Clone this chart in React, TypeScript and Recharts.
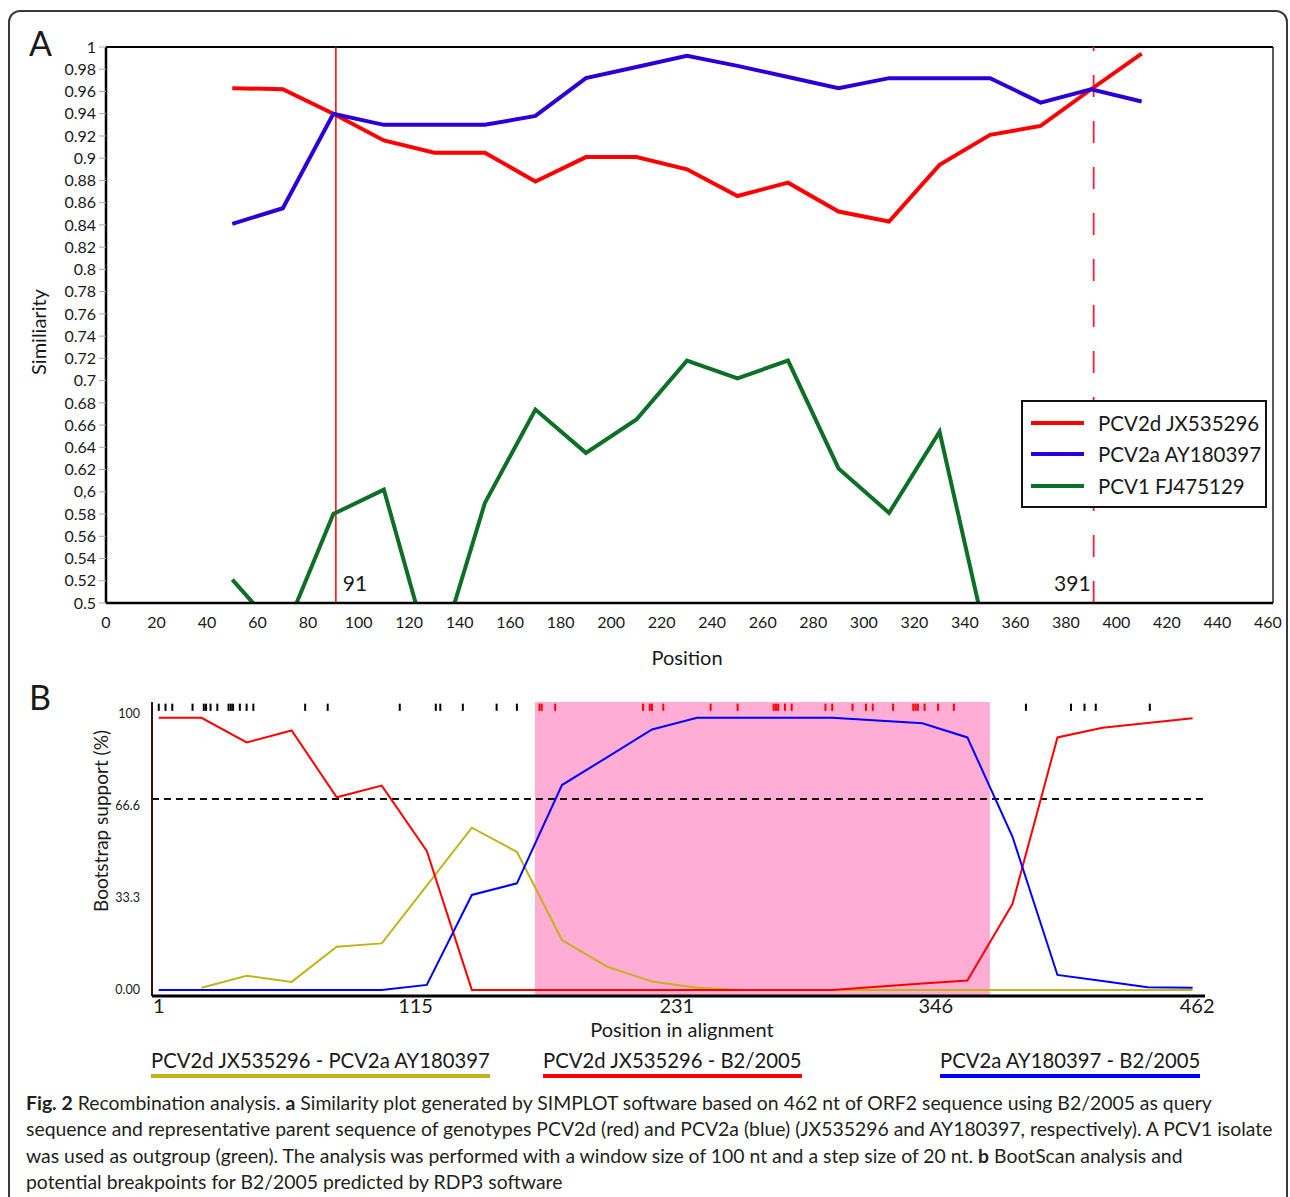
import React from "react";
import {
  ComposedChart,
  Line,
  XAxis,
  YAxis,
  ReferenceLine,
  ReferenceArea,
  Legend,
} from "recharts";

const FONT = "Lato, 'Open Sans', sans-serif";
const INK = "#1a1a1a";

// ---- Panel A: SimPlot similarity, window 100 nt / step 20 nt ----
const windowPos = [50, 70, 90, 110, 130, 150, 170, 190, 210, 230, 250, 270, 290, 310, 330, 350, 370, 390, 410];
const simPCV2d = [0.963, 0.962, 0.94, 0.916, 0.905, 0.905, 0.879, 0.901, 0.901, 0.89, 0.866, 0.878, 0.852, 0.843, 0.894, 0.921, 0.929, 0.962, 0.994];
const simPCV2a = [0.841, 0.855, 0.94, 0.93, 0.93, 0.93, 0.938, 0.972, 0.982, 0.992, 0.983, 0.973, 0.963, 0.972, 0.972, 0.972, 0.95, 0.962, 0.951];
const simPCV1 = [0.521, 0.47, 0.58, 0.602, 0.44, 0.59, 0.674, 0.635, 0.665, 0.718, 0.702, 0.718, 0.621, 0.581, 0.654, 0.453, null, null, null];

const xTicksA = [0, 20, 40, 60, 80, 100, 120, 140, 160, 180, 200, 220, 240, 260, 280, 300, 320, 340, 360, 380, 400, 420, 440, 460];
const yTicksA = [0.5, 0.52, 0.54, 0.56, 0.58, 0.6, 0.62, 0.64, 0.66, 0.68, 0.7, 0.72, 0.74, 0.76, 0.78, 0.8, 0.82, 0.84, 0.86, 0.88, 0.9, 0.92, 0.94, 0.96, 0.98, 1];
const yLabelsA = ["0.5", "0.52", "0.54", "0.56", "0.58", "0,6", "0.62", "0.64", "0.66", "0.68", "0.7", "0.72", "0.74", "0.76", "0.78", "0.8", "0.82", "0.84", "0.86", "0.88", "0.9", "0.92", "0.94", "0.96", "0.98", "1"];
const breakpoints = [91, 391];

const simSeries = [
  { key: "pcv2d", name: "PCV2d JX535296", color: "#ff0000" },
  { key: "pcv2a", name: "PCV2a AY180397", color: "#2b00d8" },
  { key: "pcv1", name: "PCV1 FJ475129", color: "#0d7026" },
];

const simRows = windowPos.map((pos, i) => ({
  pos,
  pcv2d: simPCV2d[i],
  pcv2a: simPCV2a[i],
  pcv1: simPCV1[i],
}));

// ---- Panel B: BootScan (RDP3) ----
const scanPos = [1, 20, 40, 60, 80, 100, 120, 140, 160, 180, 200, 220, 240, 260, 280, 300, 320, 340, 360, 380, 400, 420, 440, 460];
const bsDvsA = [null, 0.8, 5.1, 2.9, 15.6, 16.8, 37.7, 58.6, 49.9, 18, 8.4, 3.0, 0.8, 0, 0, 0, 0, 0, 0, 0, 0, 0, 0, 0];
const bsDvsQ = [98.3, 98.3, 89.4, 93.7, 69.6, 73.8, 50.2, 0, 0, 0, 0, 0, 0, 0, 0, 0, 1.1, 2.3, 3.4, 31, 91.2, 94.7, 96.4, 98.1];
const bsAvsQ = [0, 0, 0, 0, 0, 0, 1.8, 34.3, 38.5, 74, 84, 94.1, 98.3, 98.3, 98.3, 98.3, 97.3, 96.3, 91.2, 55.4, 5.4, 3.2, 1.0, 0.8];

const xTicksB = [1, 115, 231, 346, 462];
const yTicksB = [0, 33.3, 66.6, 100];
const yLabelsB = ["0.00", "33.3", "66.6", "100"];
const cutoff = 69;
const recombRegion = [168, 370];
const sitesOut = [1, 4, 7, 16, 21, 22, 24, 27, 32, 33, 34, 37, 40, 43, 66, 76, 108, 124, 126, 136, 151, 160, 386, 406, 412, 417, 441];
const sitesIn = [170, 171, 177, 216, 219, 220, 225, 246, 258, 274, 275, 276, 279, 282, 297, 300, 309, 315, 318, 327, 336, 337, 338, 341, 347, 354];

const scanSeries = [
  { key: "dA", name: "PCV2d JX535296 - PCV2a AY180397", color: "#c2b21c", left: 151 },
  { key: "dQ", name: "PCV2d JX535296 - B2/2005", color: "#ff0000", left: 543 },
  { key: "aQ", name: "PCV2a AY180397 - B2/2005", color: "#0000ff", left: 940 },
];

const scanRows = scanPos.map((pos, i) => ({
  pos,
  dA: bsDvsA[i],
  dQ: bsDvsQ[i],
  aQ: bsAvsQ[i],
}));

const fmtA = (v: number) => {
  const i = yTicksA.findIndex((t) => Math.abs(t - v) < 1e-6);
  return i >= 0 ? yLabelsA[i] : String(v);
};
const fmtB = (v: number) => {
  const i = yTicksB.findIndex((t) => Math.abs(t - v) < 1e-6);
  return i >= 0 ? yLabelsB[i] : String(v);
};

const BreakLabel = (props: any) => {
  const { viewBox, text, side } = props;
  if (!viewBox) return null;
  const right = side === "right";
  return (
    <text
      x={right ? viewBox.x + 7 : viewBox.x - 3}
      y={viewBox.y + viewBox.height - 12}
      textAnchor={right ? "start" : "end"}
      fontSize={21}
      fill={INK}
      fontFamily={FONT}
    >
      {text}
    </text>
  );
};

const SimLegend = (props: any) => {
  const order = simSeries.map((s) => s.name);
  const payload = [...(props.payload || [])].sort(
    (a: any, b: any) => order.indexOf(a.value) - order.indexOf(b.value)
  );
  return (
    <div
      style={{
        border: "2px solid #111",
        background: "#fff",
        boxSizing: "border-box",
        width: 246,
        height: 108,
        padding: "5px 0 0 8px",
        fontFamily: FONT,
      }}
    >
      {payload.map((e: any) => (
        <div key={e.value} style={{ display: "flex", alignItems: "center", height: 31.5 }}>
          <span style={{ display: "inline-block", width: 53, height: 4, background: e.color, marginRight: 14 }} />
          <span style={{ fontSize: 20.5, color: INK, whiteSpace: "nowrap" }}>{e.value}</span>
        </div>
      ))}
    </div>
  );
};

const VLabel = ({ cx, cy, size, children }: any) => (
  <div
    style={{
      position: "absolute",
      left: cx,
      top: cy,
      transform: "translate(-50%, -50%) rotate(-90deg)",
      fontSize: size,
      whiteSpace: "nowrap",
      color: INK,
    }}
  >
    {children}
  </div>
);

const HLabel = ({ cx, cy, size, children }: any) => (
  <div
    style={{
      position: "absolute",
      left: cx,
      top: cy,
      transform: "translate(-50%, -50%)",
      fontSize: size,
      whiteSpace: "nowrap",
      color: INK,
    }}
  >
    {children}
  </div>
);

export default function App() {
  return (
    <div
      style={{
        position: "relative",
        width: 1290,
        height: 1197,
        overflow: "hidden",
        background: "#fff",
        fontFamily: FONT,
        color: INK,
      }}
    >
      <style>{`body{margin:0;overflow:hidden}`}</style>

      {/* figure frame */}
      <div
        style={{
          position: "absolute",
          left: 8,
          top: 10,
          width: 1280,
          height: 1300,
          border: "2px solid #3a3a3a",
          borderRadius: 12,
          boxSizing: "border-box",
        }}
      />

      <div style={{ position: "absolute", left: 29, top: 22, fontSize: 34 }}>A</div>
      <div style={{ position: "absolute", left: 29, top: 676, fontSize: 34 }}>B</div>

      {/* Panel A */}
      <div style={{ position: "absolute", left: 0, top: 0 }}>
        <ComposedChart
          width={1290}
          height={680}
          data={simRows}
          margin={{ top: 47, right: 17, bottom: 37, left: 56 }}
          style={{ fontFamily: FONT }}
        >
          <XAxis
            dataKey="pos"
            type="number"
            domain={[0, 462]}
            allowDataOverflow
            ticks={xTicksA}
            interval={0}
            tickLine={false}
            tickSize={0}
            tickMargin={14}
            height={40}
            axisLine={{ stroke: "#000", strokeWidth: 2.5 }}
            tick={{ fontSize: 16, fill: INK, fontFamily: FONT }}
          />
          <YAxis
            type="number"
            domain={[0.5, 1]}
            allowDataOverflow
            ticks={yTicksA}
            interval={0}
            width={50}
            tickSize={7}
            tickMargin={3}
            tickLine={{ stroke: "#aaa" }}
            axisLine={{ stroke: "#000", strokeWidth: 2.5 }}
            tick={{ fontSize: 16, fill: INK, fontFamily: FONT }}
            tickFormatter={fmtA}
          />
          <ReferenceLine y={1} stroke="#000" strokeWidth={2} />
          <ReferenceLine x={462} stroke="#222" strokeWidth={1.5} />
          <ReferenceLine
            x={breakpoints[0]}
            stroke="#ff0000"
            strokeWidth={1.5}
            label={(p: any) => <BreakLabel {...p} text={String(breakpoints[0])} side="right" />}
          />
          <ReferenceLine
            x={breakpoints[1]}
            stroke="#ff1a3c"
            strokeWidth={1.8}
            strokeDasharray="22 24"
            label={(p: any) => <BreakLabel {...p} text={String(breakpoints[1])} side="left" />}
          />
          {simSeries.map((s) => (
            <Line
              key={s.key}
              type="linear"
              dataKey={s.key}
              name={s.name}
              stroke={s.color}
              strokeWidth={4}
              dot={false}
              activeDot={false}
              connectNulls={false}
              isAnimationActive={false}
            />
          ))}
          <Legend
            layout="vertical"
            align="center"
            verticalAlign="middle"
            wrapperStyle={{ left: 1021, top: 400, width: 246 }}
            content={SimLegend}
          />
        </ComposedChart>
      </div>

      <VLabel cx={38} cy={332} size={20}>Similiarity</VLabel>
      <HLabel cx={687} cy={657} size={20}>Position</HLabel>

      {/* Panel B */}
      <div style={{ position: "absolute", left: 0, top: 680 }}>
        <ComposedChart
          width={1290}
          height={380}
          data={scanRows}
          margin={{ top: 22, right: 85, bottom: 24, left: 112 }}
          style={{ fontFamily: FONT }}
        >
          <ReferenceArea
            x1={recombRegion[0]}
            x2={recombRegion[1]}
            fill="#ffadd4"
            fillOpacity={1}
            stroke="none"
          />
          <XAxis
            dataKey="pos"
            type="number"
            domain={[-2, 465.5]}
            allowDataOverflow
            ticks={xTicksB}
            interval={0}
            tickLine={false}
            tickSize={0}
            tickMargin={3}
            height={40}
            axisLine={{ stroke: "#000", strokeWidth: 3 }}
            tick={{ fontSize: 20, fill: INK, fontFamily: FONT }}
          />
          <YAxis
            type="number"
            domain={[-2.2, 104]}
            allowDataOverflow
            ticks={yTicksB}
            interval={0}
            width={40}
            tickLine={false}
            tickSize={0}
            tickMargin={12}
            axisLine={{ stroke: "#2a1414", strokeWidth: 2 }}
            tick={{ fontSize: 12.5, fill: INK, fontFamily: FONT }}
            tickFormatter={fmtB}
          />
          <ReferenceLine y={cutoff} stroke="#111" strokeWidth={2} strokeDasharray="7 5" />
          {sitesOut.map((p) => (
            <ReferenceLine
              key={"o" + p}
              segment={[{ x: p, y: 100.8 }, { x: p, y: 103.4 }]}
              stroke="#000"
              strokeWidth={2}
            />
          ))}
          {sitesIn.map((p) => (
            <ReferenceLine
              key={"i" + p}
              segment={[{ x: p, y: 100.8 }, { x: p, y: 103.4 }]}
              stroke="#ff0000"
              strokeWidth={2}
            />
          ))}
          {scanSeries.map((s) => (
            <Line
              key={s.key}
              type="linear"
              dataKey={s.key}
              name={s.name}
              stroke={s.color}
              strokeWidth={2}
              dot={false}
              activeDot={false}
              connectNulls={false}
              isAnimationActive={false}
            />
          ))}
        </ComposedChart>
      </div>

      <VLabel cx={100} cy={821} size={19}>Bootstrap support (%)</VLabel>
      <HLabel cx={682} cy={1029} size={20}>Position in alignment</HLabel>

      {scanSeries.map((s) => (
        <div
          key={s.key}
          style={{
            position: "absolute",
            left: s.left,
            top: 1048,
            fontSize: 20.3,
            lineHeight: "24px",
            paddingBottom: 2,
            borderBottom: `4px solid ${s.color}`,
            whiteSpace: "nowrap",
          }}
        >
          {s.name}
        </div>
      ))}

      <div
        style={{
          position: "absolute",
          left: 26,
          top: 1090,
          fontSize: 19.4,
          lineHeight: "26.4px",
          color: "#231f20",
          whiteSpace: "nowrap",
        }}
      >
        <div>
          <b>Fig. 2</b> Recombination analysis. <b>a</b> Similarity plot generated by SIMPLOT software based on 462 nt of ORF2 sequence using B2/2005 as query
        </div>
        <div>
          sequence and representative parent sequence of genotypes PCV2d (red) and PCV2a (blue) (JX535296 and AY180397, respectively). A PCV1 isolate
        </div>
        <div>
          was used as outgroup (green). The analysis was performed with a window size of 100 nt and a step size of 20 nt. <b>b</b> BootScan analysis and
        </div>
        <div>potential breakpoints for B2/2005 predicted by RDP3 software</div>
      </div>
    </div>
  );
}
